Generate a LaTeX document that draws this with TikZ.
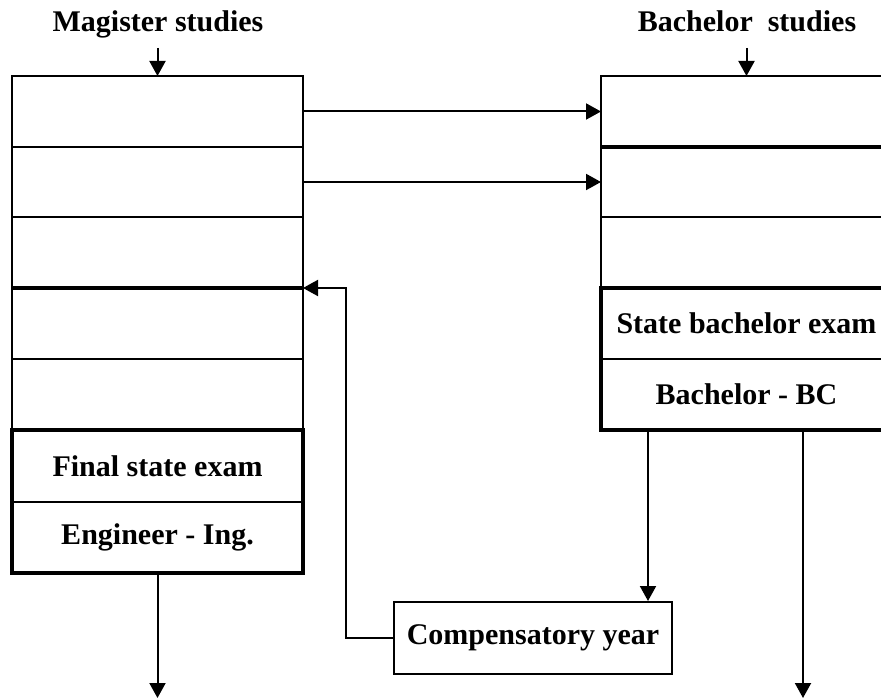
\documentclass[tikz,border=0pt]{standalone}
\usepackage{fontspec}
\setmainfont{Liberation Serif}
\usetikzlibrary{arrows.meta,calc}
\begin{document}
\begin{tikzpicture}[x=1pt,y=-1pt,
  thin line/.style={line width=2pt},
  heavy/.style={line width=4.5pt},
  row/.style={draw, thin line, minimum width=291pt, inner sep=0pt, outer sep=0pt, anchor=north west, font=\fontsize{30}{36}\selectfont\bfseries},
  arr/.style={thin line, -{Triangle[length=15pt,width=16pt]}},
  title/.style={font=\fontsize{30}{36}\selectfont\bfseries, inner sep=0pt, anchor=base}]
\useasboundingbox (0,0) rectangle (881,700);
\clip (0,0) rectangle (881,700);
% left column
\node[row, minimum height=71pt] (L1) at (12,76) {};
\node[row, minimum height=70pt] (L2) at (12,147) {};
\node[row, minimum height=71pt] (L3) at (12,217) {};
\node[row, minimum height=71pt] (L4) at (12,288) {};
\node[row, minimum height=71pt] (L5) at (12,359) {};
\node[row, minimum height=72pt] (LF) at (12,430) {Final state exam};
\node[row, minimum height=71pt] (LE) at (12,502) {Engineer - Ing.};
\draw[heavy] (L4.north west) -- (L4.north east);
\draw[heavy] (LF.north west) rectangle (LE.south east);
% right column
\node[row, minimum height=71pt] (R1) at (601,76) {};
\node[row, minimum height=70pt] (R2) at (601,147) {};
\node[row, minimum height=71pt] (R3) at (601,217) {};
\node[row, minimum height=71pt] (RS) at (601,288) {State bachelor exam};
\node[row, minimum height=71pt] (RB) at (601,359) {Bachelor - BC};
\draw[heavy] (R2.north west) -- (R2.north east);
\draw[heavy] (RS.north west) rectangle (RB.south east);
% titles
\node[title] (TM) at (158,32) {Magister studies};
\node[title] (TB) at (747,32) {Bachelor\ \ studies};
\coordinate (tm) at (L1.north |- 0,48);
\coordinate (tb) at (R1.north |- 0,48);
\draw[arr] (tm) -- (L1.north);
\draw[arr] (tb) -- (R1.north);
% compensatory year
\node[draw, thin line, minimum width=278pt, minimum height=72pt, inner sep=0pt, font=\fontsize{30}{36}\selectfont\bfseries] (C) at (533,638) {Compensatory year};
% connectors
\draw[arr] (L1.east) -- (L1.east -| R1.west);
\draw[arr] (L2.east) -- (L2.east -| R2.west);
\coordinate (b1) at ($(RB.south west)+(47,0)$);
\coordinate (b2) at ($(RB.south west)+(202,0)$);
\coordinate (b2e) at (b2 |- 0,698);
\coordinate (le) at (LE.south |- 0,698);
\draw[arr] (b1) -- (b1 |- C.north);
\draw[arr] (b2) -- (b2e);
\draw[arr] (LE.south) -- (le);
\draw[arr] (C.west) -- ++(-47,0) |- (L4.north east);
\end{tikzpicture}
\end{document}
